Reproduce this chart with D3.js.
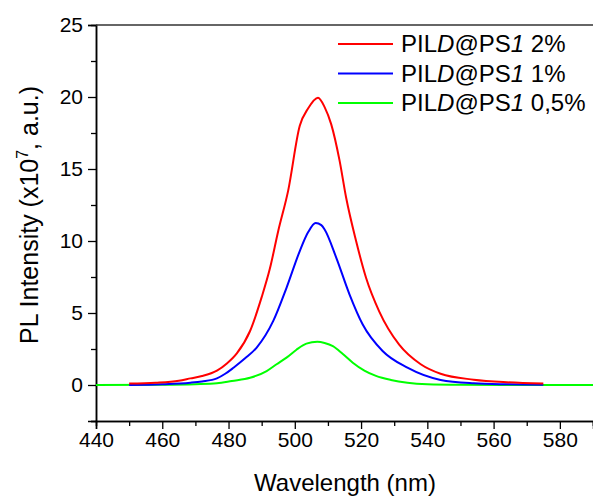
<!DOCTYPE html>
<html>
<head>
<meta charset="utf-8">
<script src="https://cdn.jsdelivr.net/npm/d3@7"></script>
<style>
  body { margin: 0; background: #fff; }
  text { font-family: "Liberation Sans", Arial, sans-serif; fill: #000; }
</style>
</head>
<body>
<div id="chart"></div>
<script>
// wavelength (nm) / intensity (x10^7)
const redX   = [450, 458, 465, 468.5, 472, 476.5, 479.5, 482.5, 486.5, 490, 492.5, 495, 498, 501.5, 504, 507, 509, 511, 513.5, 515.5, 518.5, 521.5, 525.5, 531.5, 538, 544, 554, 564, 575]
const redY   = [0.1, 0.16, 0.3, 0.46, 0.62, 1.0, 1.5, 2.2, 3.75, 6.1, 8.1, 10.7, 13.5, 18.0, 19.2, 19.95, 19.3, 18.1, 15.6, 13.0, 10.0, 7.45, 5.1, 2.8, 1.44, 0.78, 0.37, 0.19, 0.1]
const blueX  = [450, 460, 468.5, 472, 476.5, 479, 481.5, 485, 488.5, 493.5, 497.5, 501.5, 504, 506.3, 508, 509, 512.5, 516.5, 520.5, 526.5, 534, 544, 554, 564, 575]
const blueY  = [0.0, 0.05, 0.16, 0.25, 0.46, 0.78, 1.2, 1.85, 2.6, 4.45, 6.75, 9.3, 10.6, 11.25, 11.1, 10.8, 8.85, 6.3, 4.2, 2.36, 1.2, 0.35, 0.12, 0.05, 0.02]
const greenX = [440, 460, 470, 476.5, 481, 486.5, 491.5, 494.5, 497.5, 500.5, 503.5, 506.8, 509, 511.5, 514.5, 517.5, 521, 524.5, 529, 534, 540, 550, 570, 590]
const greenY = [0.0, 0.02, 0.06, 0.12, 0.28, 0.5, 0.97, 1.44, 1.9, 2.45, 2.87, 3.0, 2.92, 2.7, 2.15, 1.55, 1.0, 0.63, 0.35, 0.16, 0.06, 0.02, 0.0, 0.0]

const seriesNames = ["2%", "1%", "0,5%"]
const xTicks = [440, 460, 480, 500, 520, 540, 560, 580]
const yTicks = [0, 5, 10, 15, 20, 25]

const series = [
  { name: seriesNames[0], xs: redX, ys: redY, color: "#ff0000" },
  { name: seriesNames[1], xs: blueX, ys: blueY, color: "#0000ff" },
  { name: seriesNames[2], xs: greenX, ys: greenY, color: "#00ff00" },
]

const width = 593, height = 497
const margin = { top: 25, right: 0, bottom: 76, left: 96 }

const svg = d3.select("#chart").append("svg")
  .attr("width", width)
  .attr("height", height)

const xScale = d3.scaleLinear()
  .domain([440, 590])
  .range([margin.left, width - margin.right])

const yScale = d3.scaleLinear()
  .domain([-2.5, 25])
  .range([height - margin.bottom, margin.top])

// axes
const xAxis = svg.append("g")
  .attr("transform", `translate(0,${yScale(-2.5)})`)
  .call(d3.axisBottom(xScale).tickValues(xTicks).tickSize(8).tickPadding(3))
xAxis.append("g")
  .call(d3.axisBottom(xScale).tickValues(d3.range(450, 591, 20)).tickSize(5).tickFormat(""))
xAxis.selectAll(".domain").attr("stroke-width", 1.5)

const yAxis = svg.append("g")
  .attr("transform", `translate(${margin.left},0)`)
  .call(d3.axisLeft(yScale).tickValues(yTicks).tickSize(8).tickPadding(5))
yAxis.append("g")
  .call(d3.axisLeft(yScale).tickValues([-2.5, 2.5, 7.5, 12.5, 17.5, 22.5]).tickSize(5).tickFormat(""))
yAxis.selectAll(".domain").attr("stroke-width", 1.5)

svg.selectAll(".tick text")
  .style("font-size", "21px")
  .style("font-family", "Liberation Sans, Arial, sans-serif")
svg.selectAll(".tick line").attr("stroke-width", 1.3)

// top frame line
svg.append("line")
  .attr("x1", margin.left).attr("x2", width)
  .attr("y1", yScale(25)).attr("y2", yScale(25))
  .attr("stroke", "#333").attr("stroke-width", 1.5)

// curves
const line = d3.line()
  .x(d => xScale(d[0]))
  .y(d => yScale(d[1]))
  .curve(d3.curveMonotoneX)

series.slice().reverse().forEach(s => {
  svg.append("path")
    .attr("d", line(s.xs.map((x, i) => [x, s.ys[i]])))
    .attr("fill", "none")
    .attr("stroke", s.color)
    .attr("stroke-width", 2)
})

// legend
const legend = svg.append("g")
series.forEach((s, i) => {
  const y = 44 + i * 29.5
  legend.append("line")
    .attr("x1", 338).attr("x2", 393)
    .attr("y1", y).attr("y2", y)
    .attr("stroke", s.color).attr("stroke-width", 2)
  const t = legend.append("text")
    .attr("x", 401).attr("y", y + 8)
    .style("font-size", "24px")
  t.append("tspan").text("PIL")
  t.append("tspan").style("font-style", "italic").text("D")
  t.append("tspan").text("@PS")
  t.append("tspan").style("font-style", "italic").text("1")
  t.append("tspan").text(" " + s.name)
})

// axis titles
svg.append("text")
  .attr("x", 345)
  .attr("y", 491)
  .attr("text-anchor", "middle")
  .style("font-size", "24px")
  .text("Wavelength (nm)")

const yTitle = svg.append("text")
  .attr("transform", `translate(38,215) rotate(-90)`)
  .attr("text-anchor", "middle")
  .style("font-size", "25px")
yTitle.append("tspan").text("PL Intensity (x10")
yTitle.append("tspan").attr("dy", -10).style("font-size", "16px").text("7")
yTitle.append("tspan").attr("dy", 10).text(", a.u.)")
</script>
</body>
</html>
